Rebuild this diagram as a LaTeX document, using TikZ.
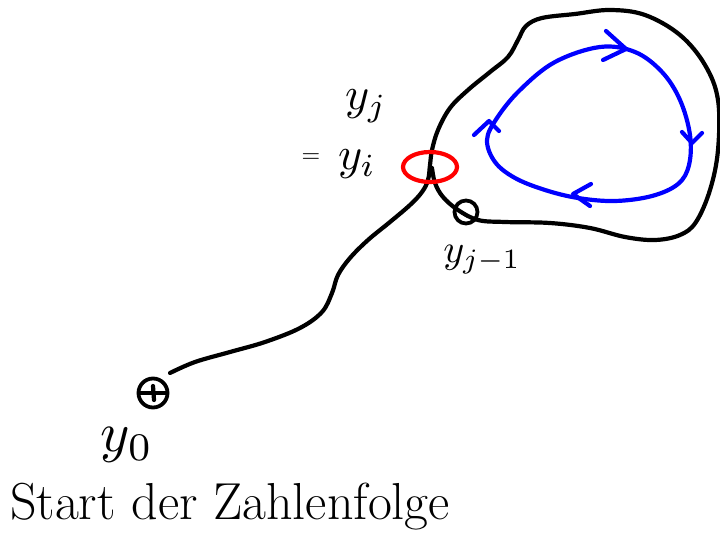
\documentclass[tikz,border=0pt]{standalone}
\usepackage{fontspec}
\usepackage{graphicx}
\usetikzlibrary{calc}
\begin{document}
\begin{tikzpicture}[x=1pt,y=-1pt,
  pen/.style={line width=4.2pt,line cap=round,line join=round},
  blackpen/.style={pen,black},
  bluepen/.style={pen,blue},
  redpen/.style={pen,red},
  lbl/.style={inner sep=0pt}]
\useasboundingbox (0,0) rectangle (720,553);
% tail and loop
\draw[blackpen] plot[smooth,tension=0.6] coordinates {
 (170,373) (195,362) (230,352) (265,342) (300,328) (322,312) (332,293)
 (338,275) (350,258) (368,240) (390,222) (410,205) (422,192) (428,180)
 (430,165) (432,150) (438,130) (450,108) (468,90) (490,72) (508,57)
 (518,40) (526,26) (542,18) (575,14) (610,10) (645,15) (680,35)
 (705,65) (718,100) (718,150) (710,190) (696,222) (680,235) (655,240)
 (625,237) (590,228) (550,223) (505,222) (478,220) (458,210) (443,197)
 (435,183) (432,168)};
% start marker
\node[draw,circle,line width=3.8pt,minimum size=29pt,inner sep=0pt] (y0c) at (153,393) {};
\draw[blackpen] (139,393) -- (167,393);
\draw[blackpen] (153,386) -- (154,400);
% y_{j-1} marker
\node[draw,circle,line width=3.8pt,minimum size=23pt,inner sep=0pt] (yjmc) at (466,212) {};
% red collision ellipse
\draw[redpen] (430,167) ellipse [x radius=27, y radius=15];
% blue cycle
\draw[bluepen] plot[smooth cycle,tension=0.6] coordinates {
 (487,140) (497,118) (520,90) (555,62) (600,47) (635,52) (662,72)
 (680,100) (690,135) (689,165) (678,184) (652,196) (615,201) (578,198)
 (545,190) (515,178) (495,162)};
% chevrons
\draw[bluepen] (606,31) -- (626,49) -- (603,60);
\draw[bluepen] (682,132) -- (692,143) -- (702,133);
\draw[bluepen] (591,184) -- (573,194) -- (590,206);
\draw[bluepen] (474,135) -- (489,121) -- (499,131);
% labels
\node[lbl] (yj) at (366,106) {\scalebox{4.6}{$y_j$}};
\node[lbl] (eq) at (311,158) {\scalebox{2.4}{$=$}};
\node[lbl] (yi) at (357,164) {\scalebox{4.6}{$y_i$}};
\node[lbl] (yjm) at (482,260) {\scalebox{4}{$y_{j-1}$}};
\node[lbl] (y0) at (127,445) {\scalebox{5.6}{$y_0$}};
\node[lbl,font=\fontsize{52}{58}\selectfont] (start) at (230,507) {Start der Zahlenfolge};
\end{tikzpicture}
\end{document}
